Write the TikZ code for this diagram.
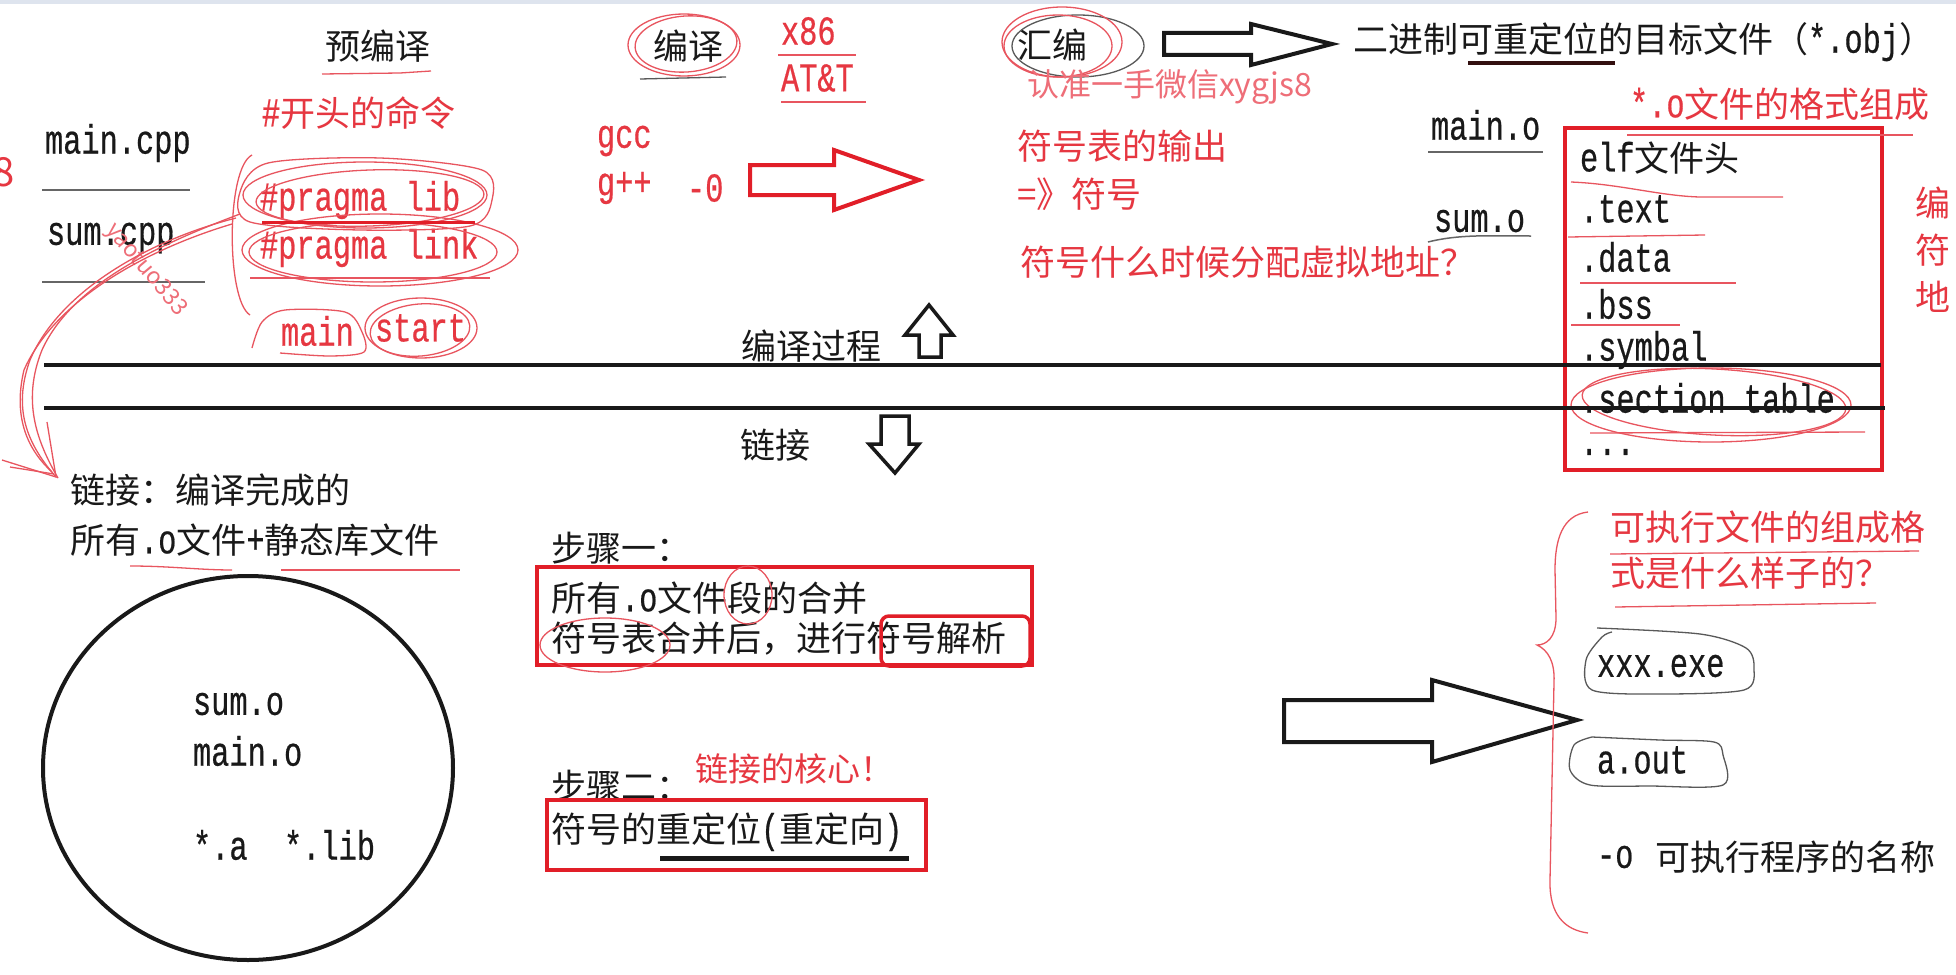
\documentclass[tikz,border=0pt]{standalone}
\usepackage{fontspec}
\setmainfont{Liberation Serif}
\newfontfamily\cn{Noto Sans CJK SC}
\newfontfamily\mn[FakeStretch=0.74,FakeBold=0.5]{Liberation Mono}
\newcommand\mx[1]{{\mn\fontsize{41}{44}\selectfont #1}}
\newcommand\cx[1]{{\cn\fontsize{35}{40}\selectfont #1}}
\definecolor{ink}{RGB}{25,25,25}
\definecolor{rd}{RGB}{225,30,40}
\definecolor{rtx}{RGB}{230,55,65}
\definecolor{rln}{RGB}{232,85,95}
\definecolor{wm}{RGB}{238,110,120}
\definecolor{topbar}{RGB}{222,228,238}
\begin{document}
\begin{tikzpicture}[x=1pt,y=-1pt,
  every node/.style={inner sep=0pt, outer sep=0pt},
  bt/.style={anchor=west, text=ink, font=\cn\fontsize{35}{40}\selectfont},
  rt/.style={anchor=west, text=rtx, font=\cn\fontsize{35}{40}\selectfont},
  bm/.style={anchor=west, text=ink, font=\mn\fontsize{41}{44}\selectfont},
  rm/.style={anchor=west, text=rtx, font=\mn\fontsize{41}{44}\selectfont},
  thickline/.style={draw=ink, line width=4pt},
  thinline/.style={draw=black!60, line width=1.5pt},
  hand/.style={draw=rln, line width=1.3pt},
  handk/.style={draw=black!65, line width=1.3pt},
  rbox/.style={draw=rd, line width=3.5pt},
  hollow/.style={draw=ink, line width=4pt, line join=miter},
]
\fill[white] (0,0) rectangle (1956,974);
\useasboundingbox (0,0) rectangle (1956,974);
\fill[topbar] (0,0) rectangle (1956,4);

% ---------- top row ----------
\node[bt] (yby) at (325,46) {预编译};
\draw[hand] (322,74) -- (400,73) -- (431,71);

\node[bt] (by) at (653,46) {编译};
\draw[hand] (684,45) ellipse [x radius=56, y radius=31];
\draw[hand, rotate around={4:(686,44)}] (686,44) ellipse [x radius=51, y radius=28];
\draw[handk] (640,79) -- (726,77);

\node[rm] (x86) at (781,31) {x86};
\node[rm] (att) at (781,78) {AT\&T};
\draw[hand] (778,55) -- (856,55);
\draw[hand] (781,102) -- (866,102);

\node[bt] (hb) at (1017,45) {汇编};
\draw[handk] (1078,46) ellipse [x radius=66, y radius=31];
\draw[hand] (1062,42) ellipse [x radius=60, y radius=35];
\draw[hand] (1058,46) ellipse [x radius=54, y radius=31];

\draw[hollow] (1164,33) -- (1251,33) -- (1251,24) -- (1332,44) -- (1251,65) -- (1251,55) -- (1164,55) -- cycle;

\node[bt] (obj) at (1353,42) {二进制可重定位的目标文件（\mx{*.obj}）};
\draw[draw={rgb,255:red,50;green,15;blue,15}, line width=3.5pt] (1468,63) -- (1615,63);

\node[anchor=west, text=wm, font=\cn\fontsize{32}{36}\selectfont] (ad) at (1027,87) {认准一手微信xygjs8};

% ---------- source files ----------
\node[rt] (kt) at (262,113) {\mx{\#}开头的命令};
\node[bm] (mcpp) at (45,143) {main.cpp};
\draw[thinline] (42,190) -- (190,190);
\node[bm] (scpp) at (47,238) {sum.cpp};
\draw[thinline] (42,282) -- (205,282);
\node[anchor=east, text=rtx, font=\cn\fontsize{40}{44}\selectfont] (eight) at (15,172) {8};
\node[text=wm, font=\cn\fontsize{23}{25}\selectfont, rotate=-50] (yt) at (146,270) {yaotuo333};

\node[rm] (plib) at (260,200) {\#pragma lib};
\node[rm] (plink) at (260,248) {\#pragma link};
\draw[hand] (365,195) ellipse [x radius=122, y radius=33];
\draw[hand, rotate around={2:(370,198)}] (370,198) ellipse [x radius=114, y radius=28];
\draw[hand] plot[smooth cycle] coordinates {(240,192) (268,163) (380,158) (482,170) (492,200) (470,226) (360,230) (250,222)};
\draw[hand] (380,250) ellipse [x radius=138, y radius=36];
\draw[hand] (373,252) ellipse [x radius=124, y radius=30];
\draw[draw=rd, line width=3pt] (262,222) -- (475,222);
\draw[hand, line width=2pt] (250,278) -- (490,278);
\draw[hand] (252,155) .. controls (226,168) and (226,300) .. (250,315);

\node[rm] (mn) at (281,331) {main};
\node[rm] (st) at (375,328) {start};
\draw[hand] (421,328) ellipse [x radius=56, y radius=30];
\draw[hand, rotate around={5:(420,330)}] (420,330) ellipse [x radius=50, y radius=26];
\draw[hand] plot[smooth] coordinates {(252,348) (262,322) (285,310) (345,312) (362,332) (364,352) (330,356) (280,353)};

% ---------- compile ----------
\node[rm] (gcc) at (597,141) {gcc};
\node[rm] (gpp) at (597,188) {g++};
\node[rm] (o0) at (687,188) {-0};
\draw[draw=rd, line width=4pt, line join=miter] (750,165) -- (834,165) -- (834,150) -- (919,180) -- (834,210) -- (834,195) -- (750,195) -- cycle;

\node[rt] (fbsc) at (1017,146) {符号表的输出};
\node[rt] (fh) at (1017,194) {=》符号};
\node[rt] (fpz) at (1020,262) {符号什么时候分配虚拟地址？};

\node[bm] (mo) at (1431,125) {main.o};
\draw[thinline] (1428,152) -- (1543,152);
\node[bm] (so) at (1434,221) {sum.o};
\draw[thinline] (1428,242) .. controls (1460,234) and (1490,236) .. (1531,236);

% ---------- object file box ----------
\draw[rbox] (1565,128) rectangle (1882,470);
\node[rt] (fmt) at (1630,104) {\mx{*.o}文件的格式组成};
\draw[hand] (1627,135) -- (1913,135);
\node[bm] (elf) at (1580,158) {elf\cx{文件头}};
\node[bm] (txt) at (1580,209) {.text};
\node[bm] (dat) at (1580,257) {.data};
\node[bm] (bss) at (1580,304) {.bss};
\node[bm] (sym) at (1580,350) {.symbal};
\node[bm] (sec) at (1580,398) {.section table};
\node[bm] (dots) at (1580,452) {...};
\draw[hand] (1571,182) .. controls (1620,184) and (1660,196) .. (1700,197) -- (1783,197);
\draw[hand] (1568,237) -- (1705,235);
\draw[hand] (1580,283) -- (1736,283);
\draw[hand] (1571,325) -- (1680,325);
\draw[hand] (1711,405) ellipse [x radius=140, y radius=37];
\draw[hand, rotate around={-3:(1714,402)}] (1714,402) ellipse [x radius=132, y radius=33];
\draw[hand] (1590,433) -- (1865,432);

\node[rt] (e1) at (1915,203) {编};
\node[rt] (e2) at (1915,250) {符};
\node[rt] (e3) at (1915,297) {地};

% ---------- divider ----------
\draw[thickline] (44,365) -- (1881,365);
\draw[thickline] (44,408) -- (1885,408);
\node[bt] (bygc) at (741,346) {编译过程};
\draw[draw=ink, line width=3.5pt, line join=miter] (919,357) -- (919,335) -- (905,335) -- (929,305) -- (953,335) -- (941,335) -- (941,357) -- cycle;
\node[bt] (lj) at (740,445) {链接};
\draw[draw=ink, line width=3.5pt, line join=miter] (881,416) -- (909,416) -- (909,444) -- (919,444) -- (895,473) -- (869,444) -- (881,444) -- cycle;

% ---------- link ----------
\node[bt] (ljwc) at (70,490) {链接：编译完成的};
\node[bt] (syo) at (70,540) {所有\mx{.o}文件\mx{+}静态库文件};
\draw[hand] (130,566) .. controls (170,566) and (200,570) .. (232,570);
\draw[hand] (281,570) -- (460,570);

\coordinate (cs) at (236,218);
\coordinate (ce) at (56,477);
\draw[hand] (cs) .. controls (150,240) and (60,290) .. (30,360) .. controls (12,410) and (28,445) .. (ce);
\draw[hand] (232,224) .. controls (145,250) and (55,300) .. (24,370) .. controls (12,420) and (30,452) .. (52,472);
\draw[hand] (240,214) .. controls (160,244) and (72,284) .. (42,350) .. controls (22,400) and (36,440) .. (58,478);
\draw[hand] (2,460) -- (ce) -- (47,422);
\draw[hand] (10,467) -- (54,474);

\draw[draw=ink, line width=4pt] (248,768) ellipse [x radius=205, y radius=192];
\node[bm] (cso) at (193,704) {sum.o};
\node[bm] (cmo) at (193,751) {main.o};
\node[bm] (clib) at (193,845) {*.a\ \ *.lib};

\node[bt] (bz1) at (551,548) {步骤一：};
\draw[rbox] (537,567) rectangle (1032,665);
\node[bt] (hb1) at (551,598) {所有\mx{.o}文件段的合并};
\node[bt] (hb2) at (551,639) {符号表合并后，进行符号解析};
\draw[rbox, rounded corners=8pt] (881,616) rectangle (1030,666);
\draw[hand] (748,595) ellipse [x radius=24, y radius=29];
\draw[hand] (605,645) ellipse [x radius=65, y radius=27];

\node[bt] (bz2) at (551,786) {步骤二：};
\node[anchor=west, text=rtx, font=\cn\fontsize{33}{38}\selectfont] (hx) at (695,769) {链接的核心！};
\draw[rbox] (547,800) rectangle (926,870);
\node[bt] (cdw) at (551,832) {符号的重定位\mx{(}重定向\mx{)}};
\draw[draw=ink, line width=5pt] (660,858) -- (909,858);

% ---------- executable ----------
\draw[hollow] (1284,700) -- (1432,700) -- (1432,680) -- (1577,720) -- (1432,762) -- (1432,742) -- (1284,742) -- cycle;
\draw[hand] (1588,512) .. controls (1562,515) and (1555,540) .. (1555,570) -- (1556,618) .. controls (1556,638) and (1546,645) .. (1537,645) .. controls (1548,650) and (1555,662) .. (1554,682) -- (1550,880) .. controls (1549,915) and (1565,930) .. (1588,933);

\node[rt] (kz1) at (1610,527) {可执行文件的组成格};
\node[rt] (kz2) at (1610,573) {式是什么样子的？};
\draw[hand] (1610,554) -- (1919,551);
\draw[hand] (1615,607) -- (1876,603);

\node[bm] (exe) at (1597,666) {xxx.exe};
\draw[handk] plot[smooth] coordinates {(1597,628) (1700,634) (1746,648) (1754,668) (1744,690) (1660,694) (1592,690) (1586,660) (1602,637) (1612,632)};
\node[bm] (aout) at (1597,760) {a.out};
\draw[handk] plot[smooth] coordinates {(1592,737) (1660,740) (1714,742) (1723,755) (1723,785) (1650,786) (1590,785) (1570,770) (1574,745) (1592,737)};
\node[bm] (oo) at (1597,857) {-o};
\node[bt] (kzm) at (1655,857) {可执行程序的名称};
\end{tikzpicture}
\end{document}
